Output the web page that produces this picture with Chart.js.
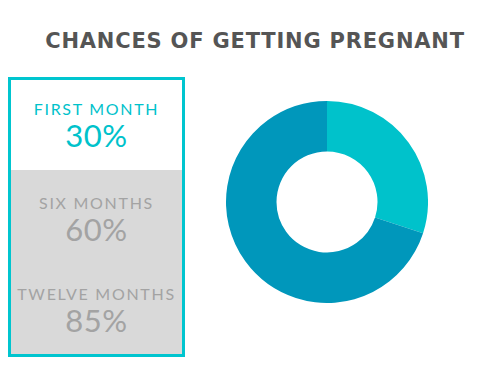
<!DOCTYPE html>
<html>
<head>
<meta charset="utf-8">
<script src="https://cdn.jsdelivr.net/npm/chart.js@4"></script>
<style>
  html, body { margin: 0; padding: 0; background: #fff; }
  body { width: 500px; height: 375px; position: relative; overflow: hidden; font-family: Lato, "Open Sans", sans-serif; }
  #title {
    position: absolute; left: 0; top: 29px; width: 510px; text-align: center;
    font-family: "DejaVu Sans", sans-serif; font-weight: bold; font-size: 21px;
    letter-spacing: 0.8px; color: #555;
  }
  #panel {
    position: absolute; left: 8px; top: 77px; width: 171px; height: 274px;
    border: 3px solid #00c5cf; background: #d9d9d9;
  }
  .row { position: absolute; left: 0; width: 100%; text-align: center; }
  .row .lbl { font-size: 16px; letter-spacing: 1.7px; line-height: 20px; }
  .row .val { font-size: 31px; line-height: 32px; letter-spacing: 0.5px; }
  #chartBox { position: absolute; left: 226px; top: 101px; width: 202px; height: 202px; }
</style>
</head>
<body>
<div id="title">CHANCES OF GETTING PREGNANT</div>
<div id="panel"></div>
<div id="chartBox"><canvas id="donut"></canvas></div>
<script>
  // Data
  const periods = ['FIRST MONTH', 'SIX MONTHS', 'TWELVE MONTHS'];
  const chances = [30, 60, 85];
  const sliceLabels = ['First month', 'Other'];
  const sliceValues = [30, 70];
  const sliceColors = ['#00c2cb', '#0097bb'];

  // Side panel
  const panel = document.getElementById('panel');
  const white = document.createElement('div');
  white.style.cssText = 'position:absolute;left:0;top:0;width:100%;height:90px;background:#fff;';
  panel.appendChild(white);
  const rowTops = [19, 113, 204];
  periods.forEach((p, i) => {
    const row = document.createElement('div');
    row.className = 'row';
    row.style.top = rowTops[i] + 'px';
    row.style.color = i === 0 ? '#00c2cb' : '#a3a3a3';
    row.innerHTML = '<div class="lbl">' + p + '</div><div class="val">' + chances[i] + '%</div>';
    panel.appendChild(row);
  });

  new Chart(document.getElementById('donut'), {
    type: 'doughnut',
    data: {
      labels: sliceLabels,
      datasets: [{ data: sliceValues, backgroundColor: sliceColors, borderWidth: 0 }],
    },
    options: {
      responsive: true,
      maintainAspectRatio: false,
      animation: false,
      cutout: '50%',
      layout: { padding: 0 },
      plugins: { legend: { display: false }, tooltip: { enabled: false } },
    },
  });
</script>
</body>
</html>
